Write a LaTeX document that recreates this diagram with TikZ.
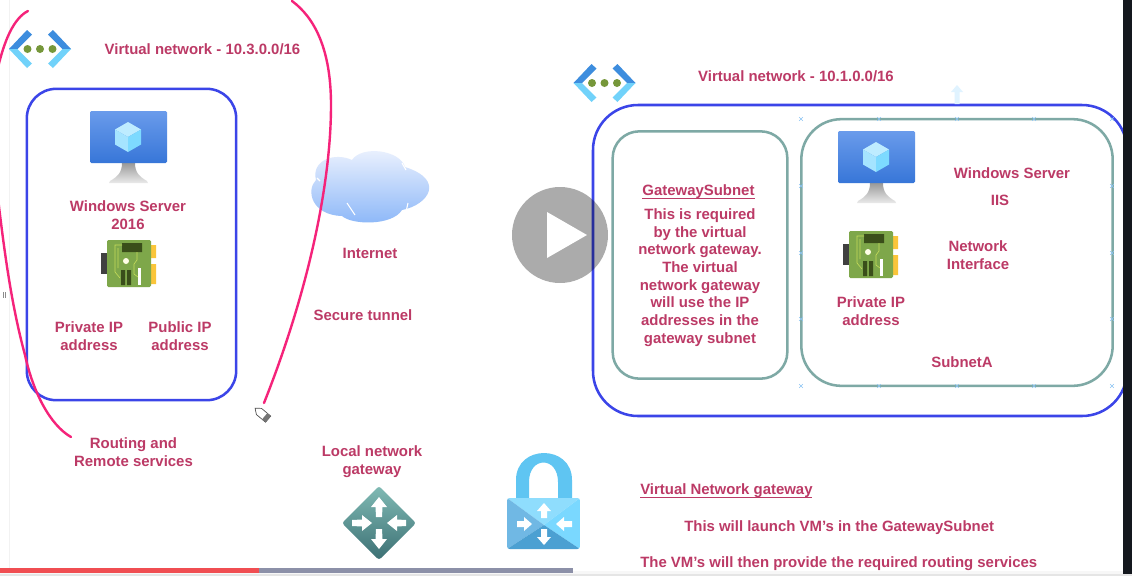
\documentclass[tikz,border=0pt]{standalone}
\usepackage{fontspec}
\setmainfont{Liberation Sans}
\definecolor{lbl}{HTML}{BC3A66}
\definecolor{boxblue}{HTML}{3B45E8}
\definecolor{boxteal}{HTML}{7EA9A5}
\definecolor{pinkline}{HTML}{F5237A}
\definecolor{markblue}{HTML}{8CC4F4}
\definecolor{nicyellow}{HTML}{FAC53A}
\tikzset{
  lab/.style={font=\bfseries\fontsize{11.2}{13.3}\selectfont,text=lbl,align=center,inner sep=0pt},
  labl/.style={lab,anchor=west},
  outerbox/.style={draw=boxblue,line width=1.9pt,rounded corners=22pt},
  tealbox/.style={draw=boxteal,line width=1.9pt},
  pinkstroke/.style={draw=pinkline,line width=1.8pt,line cap=round},
  wharrow/.style={fill=white,draw=none},
  xmark/.style={draw=markblue,line width=.5pt},
  vmicon/.pic={
    \shade[top color=black!40,bottom color=black!8] (32,52) -- (45,52) .. controls (45,62) and (50,66) .. (57,70) -- (58,72) -- (19,72) -- (20,70) .. controls (27,66) and (32,62) .. (32,52) -- cycle;
    \shade[rounded corners=1pt,top color={rgb,255:red,106;green,155;blue,235},bottom color={rgb,255:red,55;green,118;blue,216}] (0,0) rectangle (77,52);
    \fill[fill={rgb,255:red,190;green,236;blue,255}] (38,26) -- (25,18.5) -- (38,11) -- (51,18.5) -- cycle;
    \fill[fill={rgb,255:red,165;green,228;blue,255}] (38,26) -- (25,18.5) -- (25,33.5) -- (38,41) -- cycle;
    \fill[fill={rgb,255:red,125;green,218;blue,255}] (38,26) -- (51,18.5) -- (51,33.5) -- (38,41) -- cycle;
  },
  nicicon/.pic={
    \fill[black!75] (-6,13) rectangle (0,34);
    \fill[nicyellow] (44,5) rectangle (49,18) (44,24) rectangle (49,44);
    \fill[fill={rgb,255:red,126;green,167;blue,74},rounded corners=1pt] (0,0) rectangle (44,47);
    \fill[fill={rgb,255:red,58;green,78;blue,26}] (15,3) rectangle (35,12) (14,30) rectangle (18,45) (20,30) rectangle (24,45);
    \fill[white!90!yellow] (19,21) circle (3) ;
    \fill[white] (31,28) rectangle (34,45);
    \draw[line width=.45pt,draw={rgb,255:red,198;green,220;blue,90}] (15,5) -- (8,5) -- (8,32) -- (13,38) (11,8) -- (11,28) (30,12) -- (30,20) -- (27,24) -- (27,34) -- (31,37);
  },
  vneticon/.pic={
    \fill[fill={rgb,255:red,61;green,141;blue,222}] (-31,0) -- (-13,-19) -- (-8,-14.5) -- (-22.5,0) -- cycle;
    \fill[fill={rgb,255:red,113;green,210;blue,250}] (-31,0) -- (-13,19) -- (-8,14.5) -- (-22.5,0) -- cycle;
    \fill[fill={rgb,255:red,61;green,141;blue,222}] (31,0) -- (13,-19) -- (8,-14.5) -- (22.5,0) -- cycle;
    \fill[fill={rgb,255:red,113;green,210;blue,250}] (31,0) -- (13,19) -- (8,14.5) -- (22.5,0) -- cycle;
    \fill[fill={rgb,255:red,118;green,151;blue,58}] (-12.5,0) circle (4) (0,0) circle (4) (12.5,0) circle (4);
  },
}
\begin{document}
\begin{tikzpicture}[x=0.75pt,y=-0.75pt]
\useasboundingbox (0,0) rectangle (1132,576);
\fill[white] (0,0) rectangle (1132,576);
% left gutter
\draw[black!5,line width=.5pt] (9.5,0) -- (9.5,576);
\draw[black!45,line width=.4pt] (3.5,292) -- (3.5,298) (5.5,292) -- (5.5,298);
% boxes
\node[outerbox,minimum width=157pt,minimum height=233.5pt,inner sep=0pt] (leftvnet) at (131.5,244.5) {};
\draw[outerbox,rounded corners=33.75pt] (593,105) rectangle (1127,416);
\coordinate (rightvnettop) at (957,105);
\fill[blue!40!cyan!12!white] (957,85) -- (963,92) -- (959.5,92) -- (959.5,104) -- (954.5,104) -- (954.5,92) -- (951,92) -- cycle;
\node[tealbox,rounded corners=20pt,minimum width=131pt,minimum height=185.5pt,inner sep=0pt] (gwsubnet) at (700,255) {};
\node[tealbox,rounded corners=30pt,minimum width=233.5pt,minimum height=200pt,inner sep=0pt] (subneta) at (957,252.5) {};
% selection marks
\foreach \mx/\my in {801/119,879/119,957/119,1034/119,1112/119,801/186,1112/186,801/253,1112/253,801/319,1112/319,801/386,879/386,957/386,1034/386,1112/386}{
  \draw[xmark] (\mx-1.8,\my-1.8) -- (\mx+1.8,\my+1.8) (\mx-1.8,\my+1.8) -- (\mx+1.8,\my-1.8);
}
% icons
\pic at (40,49) {vneticon};
\pic at (604.5,83) {vneticon};
\pic at (90,111) {vmicon};
\pic at (838,131) {vmicon};
\pic at (107,240) {nicicon};
\pic at (849,231) {nicicon};
% cloud
\shade[top color={rgb,255:red,240;green,244;blue,254},bottom color={rgb,255:red,138;green,182;blue,248}]
 (316,180) .. controls (306,190) and (311,215) .. (342,216)
 .. controls (352,225) and (392,226) .. (402,210)
 .. controls (428,205) and (446,180) .. (405,167)
 .. controls (400,150) and (362,145) .. (352,160)
 .. controls (335,152) and (311,160) .. (316,180) -- cycle;
\draw[white,line width=.8pt] (347,203) -- (355,215) (408,203) -- (406,212) (402,163) -- (406,170) (317,178) -- (320,181);
% router diamond
\shade[top color={rgb,255:red,128;green,186;blue,180},bottom color={rgb,255:red,60;green,112;blue,116},rounded corners=2pt] (379,486) -- (416,523) -- (379,560) -- (342,523) -- cycle;
\fill[wharrow] (379,497) -- (387,507) -- (382.5,507) -- (382,517) -- (376,517) -- (375.5,507) -- (371,507) -- cycle;
\fill[wharrow] (379,549) -- (387,539) -- (382.5,539) -- (382,529) -- (376,529) -- (375.5,539) -- (371,539) -- cycle;
\fill[wharrow] (372,523) -- (362,515) -- (362,519.5) -- (352,520) -- (352,526) -- (362,526.5) -- (362,531) -- cycle;
\fill[wharrow] (387,523) -- (397,515) -- (397,519.5) -- (406,520) -- (406,526) -- (397,526.5) -- (397,531) -- cycle;
% lock
\fill[fill={rgb,255:red,95;green,197;blue,242}] (516,500) -- (516,480) .. controls (516,444) and (572,444) .. (572,480) -- (572,500) -- (558,500) -- (558,482) .. controls (558,456) and (529,456) .. (529,482) -- (529,500) -- cycle;
\begin{scope}
\clip[rounded corners=2pt] (507,498) rectangle (580,549);
\fill[fill={rgb,255:red,143;green,221;blue,253}] (507,498) -- (580,498) -- (544,525) -- cycle;
\fill[fill={rgb,255:red,122;green,216;blue,255}] (580,498) -- (580,549) -- (544,525) -- cycle;
\fill[fill={rgb,255:red,112;green,184;blue,228}] (507,498) -- (507,549) -- (544,525) -- cycle;
\fill[fill={rgb,255:red,75;green,160;blue,210}] (507,549) -- (580,549) -- (544,525) -- cycle;
\end{scope}
\fill[wharrow] (544,503) -- (551,511) -- (547,511) -- (547,518) -- (541,518) -- (541,511) -- (537,511) -- cycle;
\fill[wharrow] (544,545) -- (551,537) -- (547,537) -- (547,529) -- (541,529) -- (541,537) -- (537,537) -- cycle;
\fill[wharrow] (532,524) -- (524,517) -- (524,521) -- (517,521) -- (517,527) -- (524,527) -- (524,531) -- cycle;
\fill[wharrow] (556,524) -- (564,517) -- (564,521) -- (572,521) -- (572,527) -- (564,527) -- (564,531) -- cycle;
% labels
\node[lab] (vn3) at (202.5,49) {Virtual network - 10.3.0.0/16};
\node[lab] (ws) at (128,215.5) {Windows Server\\2016};
\node[lab] (priv1) at (89,336) {Private IP\\address};
\node[lab] (pub1) at (180,336) {Public IP\\address};
\node[lab] (routing) at (133.5,452) {Routing and\\Remote services};
\node[lab] (inet) at (370,253) {Internet};
\node[lab] (tunnel) at (363,315) {Secure tunnel};
\node[lab] (lng) at (372,462) {Local network\\gateway};
\node[lab] (vn1) at (796,76) {Virtual network - 10.1.0.0/16};
\node[lab] (gwtitle) at (698.5,191.5) {GatewaySubnet};
\draw[lbl,line width=.7pt] (642,198.5) -- (755,198.5);
\node[lab] (gwbody) at (700,277.5) {This is required\\by the virtual\\network gateway.\\The virtual\\network gateway\\will use the IP\\addresses in the\\gateway subnet};
\node[lab] (ws2) at (1012,173.5) {Windows Server};
\node[lab] (iis) at (1000,200.5) {IIS};
\node[lab] (nic2) at (978,255.5) {Network\\Interface};
\node[lab] (priv2) at (871,311.5) {Private IP\\address};
\node[lab] (suba) at (962,362) {SubnetA};
\node[labl] (vngtitle) at (640,490.5) {Virtual Network gateway};
\draw[lbl,line width=.7pt] (640,497.5) -- (812,497.5);
\node[labl] (launch) at (684,528) {This will launch VM's in the GatewaySubnet};
\node[labl] (provide) at (640,564) {The VM's will then provide the required routing services};
% pen strokes
\draw[pinkstroke] (28,11) .. controls (14,18) and (4,40) .. (-3,72);
\draw[pinkstroke] (-3,190) .. controls (3,240) and (10,300) .. (25,355) .. controls (33,392) and (50,425) .. (71,437);
\draw[pinkstroke] (292,1) .. controls (315,18) and (331,50) .. (331,105) .. controls (331,190) and (305,300) .. (264,403);
% pencil cursor
\coordinate (pencil) at (262,414);
\begin{scope}[shift={(262,414)},rotate=-40]
\fill[white,draw=black!70,line width=.5pt] (-9,0) -- (-4,-4) -- (8,-4) -- (8,4) -- (-4,4) -- cycle;
\fill[black!55] (3.5,-4) rectangle (8,4);
\end{scope}
% play button
\fill[black,opacity=.33] (560,235) circle (48);
\fill[white] (547,212) -- (587,235) -- (547,258) -- cycle;
% player chrome
\fill[fill={rgb,255:red,20;green,24;blue,30}] (1123,0) rectangle (1132,576);
\fill[black!10] (0,574) rectangle (1132,576);
\fill[black!3] (0,571) rectangle (1123,574);
\fill[fill={rgb,255:red,240;green,78;blue,82}] (0,567.5) rectangle (259,573);
\fill[fill={rgb,255:red,140;green,144;blue,168}] (259,567.5) rectangle (573,573);
\end{tikzpicture}
\end{document}
